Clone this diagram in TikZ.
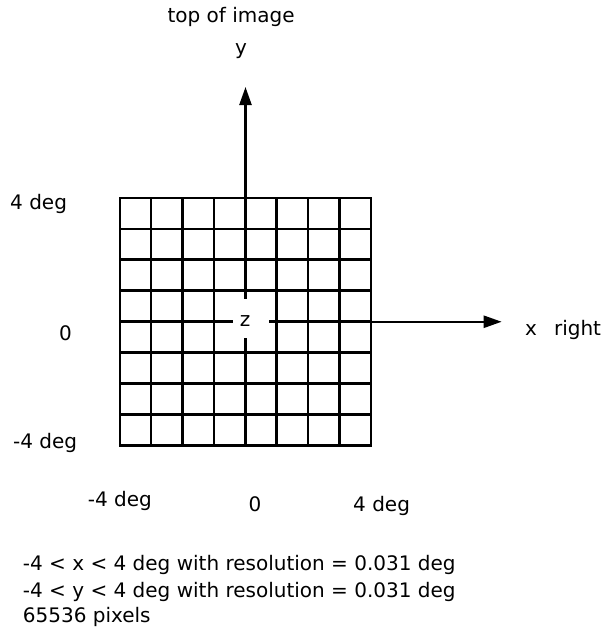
\documentclass[tikz,border=0pt]{standalone}
\usepackage{fontspec}
\setmainfont{DejaVu Sans}
\usetikzlibrary{arrows.meta, positioning}

\begin{document}
\begin{tikzpicture}[
    x=1pt, y=-1pt,
    font=\fontsize{20pt}{24pt}\selectfont,
    gridline/.style={line width=2.4pt, line cap=rect},
    arrow/.style={-{Triangle[length=18pt, width=12pt]}, line width=2.4pt},
    lbl/.style={inner sep=0pt, anchor=base west},
    lblc/.style={inner sep=0pt, anchor=base}
  ]
    \useasboundingbox (0,0) rectangle (606,630);

    % field of view, 8 x 8 cells
    \node[inner sep=0pt, minimum width=251pt, minimum height=247.5pt] (grid) at (245.5,321.75) {};
    \foreach \i in {0,...,8} {
      \draw[gridline] ([xshift=\i*31.375pt]grid.north west) -- ([xshift=\i*31.375pt]grid.south west);
      \draw[gridline] ([yshift=-\i*30.9375pt]grid.north west) -- ([yshift=-\i*30.9375pt]grid.north east);
    }

    \coordinate (ytip) at (245.5,87);
    \coordinate (xtip) at (501.7,321.75);
    \draw[arrow] (grid.north) -- (ytip);
    \draw[arrow] (grid.east) -- (xtip);

    \node[fill=white, inner sep=0pt, minimum width=36pt, minimum height=39pt] (zgap) at (251,318.5) {};
    \node[inner sep=0pt] (z) at (245,321) {z};

    \node[lbl] (top)  at (167.3,22.7) {top of image};
    \node[lblc] (ylab) at (241,54.5) {y};
    \node[lbl] (xlab) at (525,335) {x\hspace{17pt}right};

    \node[lbl] (ymax) at (10,209) {4 deg};
    \node[lblc] (yzero) at (65.5,340) {0};
    \node[lbl] (ymin) at (13,448) {-4 deg};

    \node[inner sep=0pt, anchor=base east] (xmin) at (152,506) {-4 deg};
    \node[lblc] (xzero) at (255,511.5) {0};
    \node[lbl] (xmax) at (353,511.5) {4 deg};

    \node[lbl] (xres) at (22.7,570) {-4 < x < 4 deg with resolution = 0.031 deg};
    \node[lbl] (yres) at (22.7,597) {-4 < y < 4 deg with resolution = 0.031 deg};
    \node[lbl] (npix) at (22.7,622) {65536 pixels};
  \end{tikzpicture}
\end{document}
